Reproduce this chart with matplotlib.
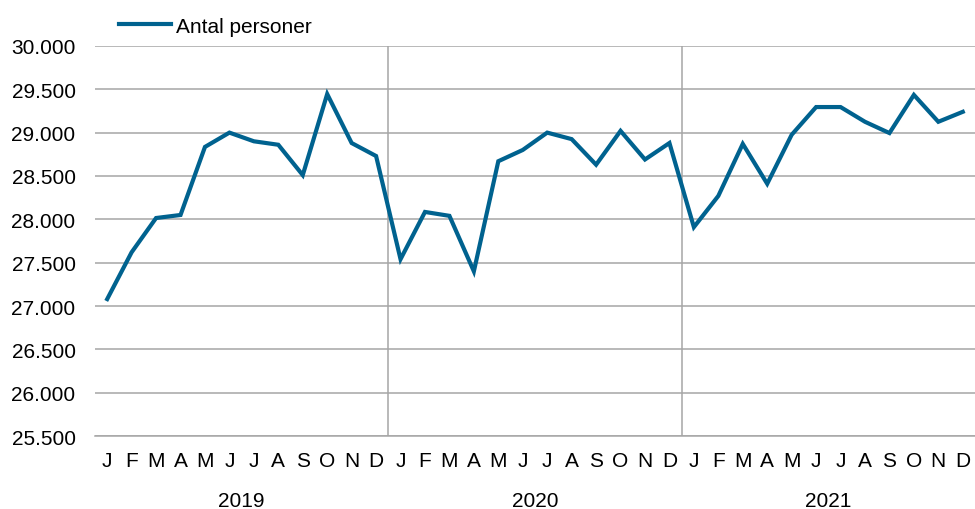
import matplotlib
matplotlib.use("Agg")
import matplotlib.pyplot as plt
from matplotlib.ticker import FuncFormatter

plt.rcParams['font.family'] = ['Liberation Sans', 'DejaVu Sans']

years = ["2019", "2020", "2021"]
months = ["J", "F", "M", "A", "M", "J", "J", "A", "S", "O", "N", "D"]
antal_personer = [
    27080, 27620, 28015, 28050, 28835, 29000, 28900, 28860, 28510, 29445, 28880, 28730,
    27540, 28085, 28040, 27400, 28670, 28800, 29000, 28925, 28630, 29020, 28690, 28880,
    27910, 28270, 28870, 28410, 28975, 29295, 29295, 29125, 28995, 29435, 29125, 29240,
]
series_label = "Antal personer"

line_color = "#00628f"
grid_color = "#a6a6a6"

fig = plt.figure(figsize=(9.75, 5.1), dpi=100)
ax = fig.add_axes([0.0974, 0.143, 0.9026, 0.765])

n = len(antal_personer)
x = list(range(n))
ax.plot(x, antal_personer, color=line_color, linewidth=3.0, label=series_label,
        solid_joinstyle="miter")

ax.set_xlim(-0.5, n - 0.5)
ax.set_ylim(25500, 30000)
ax.set_yticks(range(25500, 30001, 500))
ax.yaxis.set_major_formatter(FuncFormatter(lambda v, p: f"{int(v):,}".replace(",", ".")))
ax.yaxis.grid(True, color=grid_color, linewidth=1.1)
ax.set_axisbelow(True)

# year separators
for i in range(1, len(years)):
    ax.axvline(i * 12 - 0.5, color=grid_color, linewidth=1.1, zorder=0)

ax.set_xticks(x)
ax.set_xticklabels(months * len(years))
ax.tick_params(axis="both", length=0, labelsize=15, colors="#000000")
ax.tick_params(axis="x", pad=11)
ax.tick_params(axis="y", pad=14)

for i, yr in enumerate(years):
    ax.text(i * 12 + 5.5, -0.165, yr, transform=ax.get_xaxis_transform(),
            ha="center", va="center", fontsize=15)

for s in ["top", "right", "left"]:
    ax.spines[s].set_visible(False)
ax.spines["bottom"].set_color(grid_color)
ax.spines["bottom"].set_linewidth(1.1)

ax.legend(loc="lower left", bbox_to_anchor=(0.015, 1.0), frameon=False, fontsize=15,
          handlelength=2.5, handletextpad=0.25, borderaxespad=0.1)

fig.savefig("out.png", dpi=100)
